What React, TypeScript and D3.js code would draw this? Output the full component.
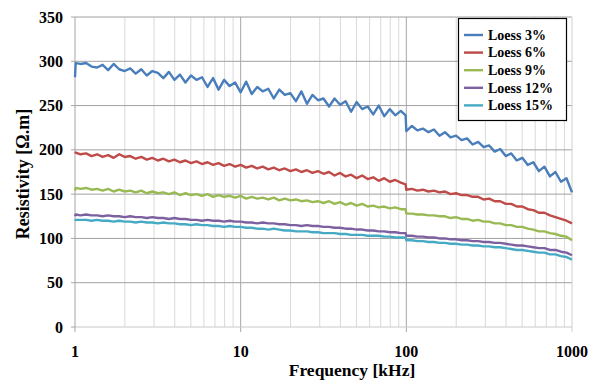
import React from "react";
import * as d3 from "d3";

const freqs = [
  1, 1.01, 1.08, 1.166, 1.259, 1.359, 1.468, 1.585, 1.711, 1.848, 1.995, 2.154, 2.326, 2.512, 2.712, 2.929, 3.162, 3.415, 3.687, 3.981, 4.299, 4.642, 5.012, 5.412, 5.843, 6.31, 6.813, 7.356, 7.943, 8.577, 9.261,
  10, 10.8, 11.66, 12.59, 13.59, 14.68, 15.85, 17.11, 18.48, 19.95, 21.54, 23.26, 25.12, 27.12, 29.29, 31.62, 34.15, 36.87, 39.81, 42.99, 46.42, 50.12, 54.12, 58.43, 63.1, 68.13, 73.56, 79.43, 85.77, 92.61,
  99, 100, 108, 116.6, 125.9, 135.9, 146.8, 158.5, 171.1, 184.8, 199.5, 215.4, 232.6, 251.2, 271.2, 292.9, 316.2, 341.5, 368.7, 398.1, 429.9, 464.2, 501.2, 541.2, 584.3, 631, 681.3, 735.6, 794.3, 857.7, 926.1, 1000,
];

const loess3 = [
  282, 298, 297, 298, 294, 293, 296, 290, 297, 291, 289, 292, 286, 291, 284, 289, 287, 281, 288, 279, 285, 276, 284, 279, 282, 271, 281, 268, 279, 272, 276,
  265, 277, 263, 271, 266, 269, 258, 268, 262, 264, 255, 266, 252, 262, 256, 258, 249, 258, 251, 255, 243, 254, 246, 249, 240, 250, 238, 246, 239, 244,
  239, 221, 227, 222, 224, 220, 223, 216, 220, 214, 216, 211, 213, 206, 209, 203, 205, 198, 201, 193, 196, 188, 191, 183, 186, 176, 181, 170, 175, 164, 168, 152,
];
const loess6 = [
  196, 197, 195, 196, 193, 195, 192, 194, 191, 195, 192, 193, 190, 192, 189, 191, 188, 190, 187, 189, 186, 188, 185, 187, 184, 186, 183, 185, 182, 184, 181,
  183, 180, 182, 179, 181, 178, 180, 177, 179, 176, 178, 175, 177, 174, 176, 173, 175, 171, 174, 170, 172, 168, 171, 167, 169, 165, 168, 164, 166, 163,
  161, 155, 156, 154, 155, 153, 154, 152, 153, 150, 151, 149, 149, 147, 147, 144, 145, 142, 142, 139, 139, 136, 136, 133, 132, 129, 129, 126, 124, 122, 120, 117,
];
const loess9 = [
  154, 157, 156, 157, 155, 156, 154, 156, 153, 155, 153, 154, 152, 154, 151, 153, 151, 152, 150, 152, 149, 151, 149, 150, 148, 150, 147, 149, 147, 148, 146,
  148, 145, 147, 145, 146, 144, 146, 143, 145, 143, 144, 142, 143, 141, 142, 140, 142, 139, 141, 138, 140, 137, 139, 136, 137, 135, 136, 134, 135, 133,
  133, 128, 128, 127, 127, 126, 126, 125, 125, 123, 124, 122, 122, 120, 121, 119, 119, 117, 117, 115, 115, 113, 113, 111, 110, 108, 108, 106, 105, 103, 102, 98,
];
const loess12 = [
  125, 127, 126, 127, 126, 126, 125, 126, 125, 125, 124, 125, 124, 124, 123, 124, 123, 123, 122, 123, 122, 122, 121, 121, 120, 121, 120, 120, 119, 120, 119,
  119, 118, 118, 117, 118, 117, 117, 116, 116, 115, 115, 114, 115, 114, 114, 113, 113, 112, 112, 111, 111, 110, 110, 109, 109, 108, 108, 107, 107, 106,
  106, 103, 103, 102, 102, 101, 101, 100, 100, 99, 99, 98, 98, 97, 97, 96, 96, 95, 95, 94, 93, 92, 92, 91, 90, 89, 89, 87, 87, 85, 84, 81,
];
const loess15 = [
  120, 121, 121, 121, 120, 121, 120, 120, 119, 120, 119, 119, 118, 119, 118, 118, 117, 118, 117, 117, 116, 116, 115, 116, 115, 115, 114, 114, 113, 114, 113,
  113, 112, 112, 111, 111, 110, 111, 110, 109, 109, 108, 108, 108, 107, 107, 106, 106, 106, 105, 105, 104, 104, 104, 103, 103, 103, 102, 102, 101, 101,
  101, 98, 98, 97, 97, 96, 96, 95, 95, 94, 94, 93, 93, 92, 92, 91, 91, 90, 90, 89, 88, 87, 87, 86, 85, 84, 84, 82, 82, 80, 79, 76,
];

const seriesNames = ["Loess 3%", "Loess 6%", "Loess 9%", "Loess 12%", "Loess 15%"];
const seriesValues = [loess3, loess6, loess9, loess12, loess15];
const seriesColors = ["#4a7ebb", "#be4b48", "#98b954", "#7d60a0", "#46aac5"];
const yTicks = [0, 50, 100, 150, 200, 250, 300, 350];
const xTicks = [1, 10, 100, 1000];

export default function App() {
  const W = 596, H = 383;
  const x = d3.scaleLog().domain([1, 1000]).range([75, 572]);
  const y = d3.scaleLinear().domain([0, 350]).range([327, 17]);
  const minor: number[] = [];
  [1, 10, 100].forEach((d) => {
    for (let k = 2; k <= 9; k++) minor.push(d * k);
  });
  const line = d3
    .line<number>()
    .x((_, i) => x(freqs[i]))
    .y((v) => y(v));
  const font = "'Liberation Serif', 'Times New Roman', serif";
  return (
    <svg width={W} height={H} style={{ position: "absolute", left: 0, top: 0, background: "#fff" }} fontFamily={font}>
      {minor.map((m) => (
        <line key={"m" + m} x1={x(m)} x2={x(m)} y1={y(350)} y2={y(0)} stroke="#d9d9d9" strokeWidth={1} />
      ))}
      {yTicks.slice(1).map((t) => (
        <line key={"h" + t} x1={x(1)} x2={x(1000)} y1={y(t)} y2={y(t)} stroke="#a0a0a0" strokeWidth={1} />
      ))}
      {[10, 100].map((t) => (
        <line key={"d" + t} x1={x(t)} x2={x(t)} y1={y(350)} y2={y(0) + 5} stroke="#a6a6a6" strokeWidth={1} />
      ))}
      <line x1={x(1000)} x2={x(1000)} y1={y(350)} y2={y(0) + 5} stroke="#d0d0d0" strokeWidth={1} />
      <line x1={x(1)} x2={x(1000)} y1={y(0)} y2={y(0)} stroke="#c8c8c8" strokeWidth={1} />
      <line x1={x(1)} x2={x(1)} y1={y(350)} y2={y(0) + 5} stroke="#a6a6a6" strokeWidth={1} />
      {yTicks.map((t) => (
        <line key={"yt" + t} x1={x(1) - 4} x2={x(1)} y1={y(t)} y2={y(t)} stroke="#a6a6a6" strokeWidth={1} />
      ))}
      {seriesValues.map((vals, i) => (
        <path key={seriesNames[i]} d={line(vals) || ""} fill="none" stroke={seriesColors[i]} strokeWidth={2.4} strokeLinejoin="round" />
      ))}
      {yTicks.map((t) => (
        <text key={"yl" + t} x={63} y={y(t) + 5.5} textAnchor="end" fontSize={16} fontWeight="bold" fill="#000">
          {t}
        </text>
      ))}
      {xTicks.map((t) => (
        <text key={"xl" + t} x={x(t)} y={357} textAnchor="middle" fontSize={16} fontWeight="bold" fill="#000">
          {t}
        </text>
      ))}
      <text x={352} y={376} textAnchor="middle" fontSize={17.5} fontWeight="bold" fill="#000">
        Frequency [kHz]
      </text>
      <text transform="translate(29,174) rotate(-90)" textAnchor="middle" fontSize={18} fontWeight="bold" fill="#000">
        Resistivity [Ω.m]
      </text>
      <rect x={458.5} y={18.5} width={108} height={102} fill="#fff" stroke="#000" strokeWidth={1.2} />
      {seriesNames.map((n, i) => {
        const yy = 35 + i * 17.6;
        return (
          <g key={"lg" + n}>
            <line x1={464} x2={483} y1={yy} y2={yy} stroke={seriesColors[i]} strokeWidth={2.4} />
            <text x={488} y={yy + 4.8} fontSize={14} fontWeight="bold" fill="#000">
              {n}
            </text>
          </g>
        );
      })}
    </svg>
  );
}
